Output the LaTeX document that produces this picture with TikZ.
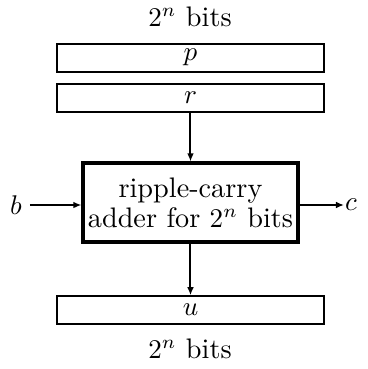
\documentclass[tikz,border=0pt]{standalone}
\usetikzlibrary{arrows.meta}
\begin{document}
\def\u{0.37pt}
\begin{tikzpicture}[x=0.37pt,y=-0.37pt,
  every node/.style={font=\fontsize{10.45}{11.2}\selectfont},
  reg/.style={draw,line width=0.74pt,minimum width=267*\u,minimum height=27.5*\u,inner sep=0pt},
  adder/.style={draw,line width=1.15pt,minimum width=215*\u,minimum height=79*\u,inner sep=0pt,align=center},
  conn/.style={line width=0.74pt,-{Latex[length=3pt,width=2.5pt]}},
  lbl/.style={inner sep=0pt}]
\useasboundingbox (0,0) rectangle (368,369);
\node[lbl,anchor=base] (top) at (190,26) {$2^n$ bits};
\node[reg] (p) at (190.5,57.8) {$p$};
\node[reg] (r) at (190.5,98) {$r$};
\node[adder] (add) at (190.5,202.5) {ripple-carry\\adder for $2^n$ bits};
\node[reg] (u) at (190.5,310) {$u$};
\node[lbl,anchor=base] (bot) at (190,358) {$2^n$ bits};
\node[lbl] (b) at (16,205) {$b$};
\node[lbl] (c) at (351,205) {$c$};
\coordinate (bs) at (30,205);
\coordinate (ce) at (344,205);
\draw[conn] (r.south) -- (add.north);
\draw[conn] (add.south) -- (u.north);
\draw[conn] (bs) -- (add.west |- bs);
\draw[conn] (add.east |- ce) -- (ce);
\end{tikzpicture}
\end{document}
